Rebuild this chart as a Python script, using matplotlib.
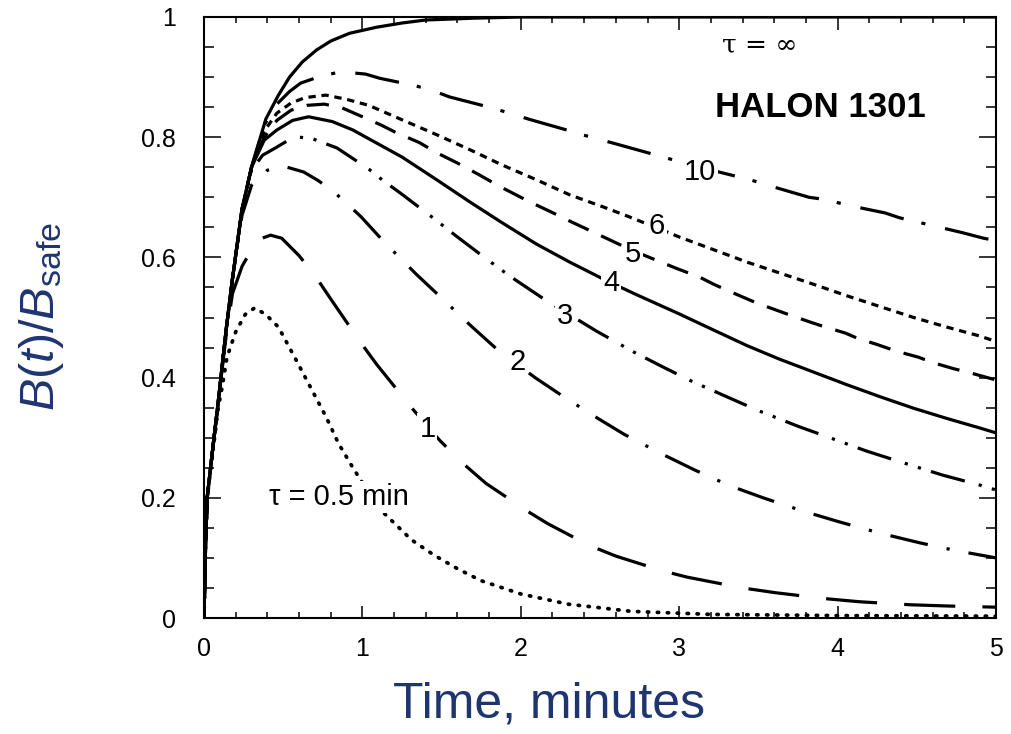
import matplotlib
matplotlib.use("Agg")
import matplotlib.pyplot as plt
from matplotlib.ticker import MultipleLocator, FuncFormatter

plt.rcParams["font.family"] = ["Liberation Sans", "DejaVu Sans"]
plt.rcParams["mathtext.fontset"] = "custom"
plt.rcParams["mathtext.rm"] = "Liberation Sans"
plt.rcParams["mathtext.it"] = "Liberation Sans:italic"

NAVY = "#1f3570"

# Halon 1301 concentration ratio B(t)/B_safe versus time (minutes)
# for several leakage time constants tau.
t_inf = [0, 0.01, 0.02, 0.05, 0.09, 0.14, 0.18, 0.24, 0.30, 0.39, 0.47, 0.54,
         0.62, 0.71, 0.80, 0.92, 1.09, 1.25, 1.40, 1.70, 2.0, 3.0, 4.0, 5.0]
b_inf = [0, 0.12, 0.20, 0.27, 0.36, 0.48, 0.565, 0.68, 0.75, 0.83, 0.87, 0.90,
         0.925, 0.945, 0.96, 0.973, 0.983, 0.99, 0.995, 0.998, 1.0, 1.0, 1.0, 1.0]

t_10 = [0, 0.01, 0.02, 0.05, 0.09, 0.14, 0.18, 0.24, 0.30, 0.38, 0.46, 0.54,
        0.61, 0.72, 0.83, 0.94, 1.02, 1.11, 1.33, 1.45, 1.55, 1.80, 1.93, 2.05,
        2.29, 2.39, 2.53, 2.79, 3.10, 3.45, 3.56, 3.82, 3.93, 4.06, 4.30, 4.39,
        4.55, 4.79, 4.92, 5.0]
b_10 = [0, 0.12, 0.20, 0.27, 0.36, 0.48, 0.565, 0.68, 0.75, 0.82, 0.855, 0.876,
        0.89, 0.90, 0.907, 0.907, 0.905, 0.898, 0.886, 0.877, 0.867, 0.85, 0.84, 0.83,
        0.812, 0.804, 0.794, 0.775, 0.752, 0.729, 0.72, 0.70, 0.696, 0.687, 0.674, 0.666,
        0.656, 0.641, 0.632, 0.628]

t_6 = [0, 0.01, 0.02, 0.05, 0.09, 0.14, 0.18, 0.24, 0.30, 0.38, 0.46, 0.55, 0.64,
       0.77, 0.90, 1.04, 1.25, 1.47, 1.68, 1.88, 2.10, 2.31, 2.52, 2.67, 2.85, 3.0,
       3.43, 3.84, 4.06, 4.27, 4.48, 4.69, 4.90, 5.0]
b_6 = [0, 0.12, 0.20, 0.27, 0.36, 0.48, 0.565, 0.68, 0.75, 0.81, 0.84, 0.857, 0.866,
       0.87, 0.863, 0.853, 0.829, 0.804, 0.779, 0.754, 0.729, 0.704, 0.684, 0.669, 0.65, 0.634,
       0.592, 0.556, 0.536, 0.518, 0.5, 0.484, 0.469, 0.46]

t_5 = [0, 0.01, 0.02, 0.05, 0.09, 0.14, 0.18, 0.24, 0.30, 0.38, 0.46, 0.55, 0.65,
       0.76, 0.87, 1.0, 1.12, 1.21, 1.36, 1.47, 1.60, 1.74, 1.86, 2.0, 2.10, 2.22,
       2.32, 2.45, 2.70, 2.98, 3.13, 3.22, 3.34, 3.49, 3.70, 3.82, 3.90, 4.05, 4.12,
       4.25, 4.37, 4.51, 4.60, 4.73, 4.85, 5.0]
b_5 = [0, 0.12, 0.20, 0.27, 0.36, 0.48, 0.565, 0.68, 0.75, 0.80, 0.828, 0.845, 0.853,
       0.855, 0.849, 0.834, 0.82, 0.808, 0.791, 0.774, 0.757, 0.737, 0.719, 0.70, 0.687, 0.672,
       0.659, 0.643, 0.612, 0.582, 0.567, 0.555, 0.541, 0.524, 0.504, 0.493, 0.486, 0.474, 0.466,
       0.455, 0.444, 0.434, 0.425, 0.415, 0.407, 0.396]

t_4 = [0, 0.01, 0.02, 0.05, 0.09, 0.14, 0.18, 0.24, 0.30, 0.38, 0.46, 0.56, 0.66,
       0.81, 0.94, 1.05, 1.25, 1.47, 1.68, 1.88, 2.10, 2.31, 2.52, 2.73, 3.0, 3.21,
       3.43, 3.63, 3.84, 4.06, 4.27, 4.48, 4.69, 4.90, 5.0]
b_4 = [0, 0.12, 0.20, 0.27, 0.36, 0.48, 0.565, 0.68, 0.75, 0.795, 0.812, 0.828, 0.834,
       0.826, 0.812, 0.796, 0.767, 0.729, 0.692, 0.658, 0.622, 0.592, 0.564, 0.538, 0.506, 0.48,
       0.453, 0.431, 0.41, 0.388, 0.368, 0.349, 0.332, 0.316, 0.308]

t_3 = [0, 0.01, 0.02, 0.05, 0.09, 0.14, 0.18, 0.24, 0.30, 0.37, 0.45, 0.52, 0.60,
       0.68, 0.76, 0.84, 0.92, 1.04, 1.13, 1.25, 1.44, 1.59, 1.76, 1.93, 2.15, 2.48,
       2.71, 2.88, 3.07, 3.31, 3.50, 3.76, 3.93, 4.18, 4.37, 4.66, 4.90, 5.0]
b_3 = [0, 0.12, 0.20, 0.27, 0.36, 0.48, 0.565, 0.68, 0.745, 0.77, 0.782, 0.793, 0.80,
       0.798, 0.79, 0.782, 0.768, 0.747, 0.728, 0.705, 0.667, 0.636, 0.602, 0.569, 0.53, 0.477,
       0.443, 0.42, 0.395, 0.367, 0.345, 0.318, 0.302, 0.278, 0.262, 0.238, 0.221, 0.213]

t_2 = [0, 0.01, 0.02, 0.05, 0.09, 0.14, 0.18, 0.24, 0.30, 0.40, 0.50, 0.63, 0.72,
       0.82, 0.90, 0.99, 1.07, 1.15, 1.25, 1.34, 1.53, 1.69, 1.85, 2.09, 2.26, 2.45,
       2.65, 2.89, 3.10, 3.32, 3.53, 3.78, 4.01, 4.27, 4.52, 4.75, 5.0]
b_2 = [0, 0.12, 0.20, 0.27, 0.36, 0.48, 0.565, 0.67, 0.72, 0.745, 0.752, 0.742, 0.728,
       0.709, 0.69, 0.668, 0.645, 0.622, 0.596, 0.572, 0.525, 0.485, 0.447, 0.40, 0.37, 0.338,
       0.306, 0.273, 0.246, 0.22, 0.2, 0.178, 0.16, 0.141, 0.125, 0.112, 0.10]

t_1 = [0, 0.01, 0.02, 0.05, 0.09, 0.14, 0.18, 0.24, 0.335, 0.42, 0.49, 0.60, 0.71,
       0.81, 0.99, 1.09, 1.31, 1.49, 1.64, 1.78, 2.04, 2.17, 2.43, 2.60, 2.90, 3.05,
       3.40, 3.61, 3.93, 4.14, 4.46, 4.69, 5.0]
b_1 = [0, 0.12, 0.20, 0.27, 0.36, 0.47, 0.54, 0.585, 0.629, 0.637, 0.632, 0.603, 0.566,
       0.527, 0.458, 0.422, 0.35, 0.295, 0.256, 0.224, 0.178, 0.157, 0.121, 0.103, 0.078, 0.068,
       0.05, 0.042, 0.032, 0.027, 0.022, 0.02, 0.018]

t_05 = [0, 0.01, 0.02, 0.05, 0.09, 0.115, 0.145, 0.20, 0.26, 0.32, 0.39, 0.47, 0.58,
        0.68, 0.77, 0.85, 0.94, 1.0, 1.13, 1.31, 1.45, 1.60, 1.75, 2.0, 2.3, 2.7, 3.2,
        4.0, 5.0]
b_05 = [0, 0.12, 0.20, 0.265, 0.35, 0.385, 0.434, 0.476, 0.505, 0.516, 0.505, 0.484, 0.43,
        0.38, 0.335, 0.29, 0.25, 0.225, 0.176, 0.13, 0.105, 0.082, 0.062, 0.04, 0.023, 0.011,
        0.006, 0.004, 0.003]

x_ticks = [0, 1, 2, 3, 4, 5]
y_ticks = [0, 0.2, 0.4, 0.6, 0.8, 1.0]

fig = plt.figure(figsize=(10.12, 7.34), dpi=100)
ax = fig.add_axes([204 / 1012, 116 / 734, 792 / 1012, 601 / 734])

LW = 2.3
curves = [
    (t_inf, b_inf, None, "butt", LW),
    (t_10, b_10, (14, 5.7, 1.3, 6.3), "butt", LW),
    (t_6, b_6, (2.3, 1.8), "butt", LW),
    (t_5, b_5, (7, 4.3), "butt", LW),
    (t_4, b_4, None, "butt", LW),
    (t_3, b_3, (11, 4.5, 1, 3.3, 1, 3.3), "butt", LW),
    (t_2, b_2, (12, 6, 1, 6), "butt", LW),
    (t_1, b_1, (16, 8.5), "butt", LW),
    (t_05, b_05, (0.35, 2.3), "round", 2.7),
]
for t, b, dash, cap, lw in curves:
    line, = ax.plot(t, b, color="black", lw=lw, solid_joinstyle="round")
    if dash is not None:
        line.set_dashes(dash)
        line.set_dash_capstyle(cap)

ax.set_xlim(0, 5)
ax.set_ylim(0, 1)
ax.set_xticks(x_ticks)
ax.set_yticks(y_ticks)
ax.xaxis.set_minor_locator(MultipleLocator(0.2))
ax.yaxis.set_minor_locator(MultipleLocator(0.05))
ax.yaxis.set_major_formatter(FuncFormatter(lambda v, p: f"{v:g}"))
ax.xaxis.set_major_formatter(FuncFormatter(lambda v, p: f"{v:g}"))

ax.tick_params(which="both", direction="in", top=True, right=True,
               width=1.1, colors="black", labelsize=18)
ax.tick_params(axis="y", which="major", length=12, pad=20)
ax.tick_params(axis="y", which="minor", length=7)
ax.tick_params(axis="x", which="major", length=9, pad=14)
ax.tick_params(axis="x", which="minor", length=4.5)
for s in ax.spines.values():
    s.set_linewidth(1.5)

# curve labels, each sitting in a gap of its line
box = dict(fc="white", ec="none", pad=1.5)
labels = [("10", 3.13, 0.742), ("6", 2.86, 0.652), ("5", 2.71, 0.606),
          ("4", 2.57, 0.557), ("3", 2.28, 0.502), ("2", 1.98, 0.426),
          ("1", 1.41, 0.314)]
for txt, x, y in labels:
    ax.text(x, y, txt, fontsize=21, ha="center", va="center", bbox=box, zorder=5)
ax.text(0.85, 0.201, "τ = 0.5 min", fontsize=21, ha="center", va="center",
        bbox=box, zorder=5)
ax.text(3.51, 0.953, "τ = ∞", fontsize=19, ha="center", va="center",
        family=["DejaVu Serif"], zorder=5)
ax.text(3.89, 0.849, "HALON 1301", fontsize=25, fontweight="bold",
        ha="center", va="center", zorder=5)

fig.text(549 / 1012, 1 - 718 / 734, "Time, minutes", fontsize=36, color=NAVY,
         ha="center", va="baseline")
fig.text(41 / 1012, 1 - 316 / 734, r"$B(t)/B_{\mathrm{safe}}$", fontsize=35,
         color=NAVY, rotation=90, ha="center", va="center")

fig.savefig("out.png", dpi=100)
